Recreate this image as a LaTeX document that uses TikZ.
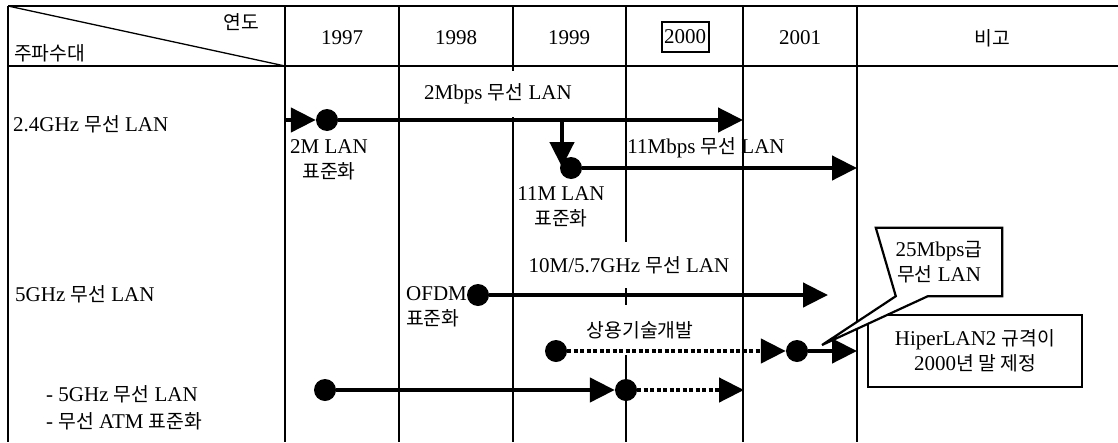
\documentclass[tikz,border=0pt]{standalone}
\usepackage{fontspec}
\setmainfont{Liberation Serif}
\newfontfamily\krfont{Noto Sans CJK KR}[Scale=0.92]
\newcommand{\kor}[1]{{\krfont #1}}
\usetikzlibrary{arrows.meta,calc}
\begin{document}
\begin{tikzpicture}[x=1pt,y=-1pt,
  grid/.style={line width=2.6pt},
  lbl/.style={font=\fontsize{21}{25}\selectfont, inner sep=0pt},
  whitelbl/.style={lbl, fill=white, inner xsep=1pt},
  dot/.style={circle, fill=black, inner sep=0pt, minimum size=22pt},
  flow/.style={line width=4.5pt, -{Triangle[length=25pt,width=24pt]}},
  dflow/.style={flow, dash pattern=on 4pt off 2.5pt},
  boxline/.style={line width=2.2pt},
]
\useasboundingbox (0,0) rectangle (1118,442);
% grid
\draw[grid] (8,6) -- (1118,6);
\draw[grid] (8,66) -- (1118,66);
\foreach \x in {8,285,399,513,626,743,857}{\draw[grid] (\x,6) -- (\x,442);}
\draw[line width=1.3pt] (8,6) -- (285,66);
% header
\node[lbl] (yeondo) at (241,22) {\kor{연도}};
\node[lbl, anchor=west] (jupa) at (14,53) {\kor{주파수대}};
\node[lbl] (y97) at (342,38) {1997};
\node[lbl] (y98) at (456,38) {1998};
\node[lbl] (y99) at (569,38) {1999};
\node[lbl, draw, line width=2pt, minimum width=47pt, minimum height=30pt] (y00) at (685,37) {2000};
\node[lbl] (y01) at (800,38) {2001};
\node[lbl] (bigo) at (992,38) {\kor{비고}};
% row labels
\node[lbl, anchor=west] (r1) at (13,124) {2.4GHz \kor{무선} LAN};
\node[lbl, anchor=west] (r2) at (15,294) {5GHz \kor{무선} LAN};
\node[lbl, anchor=west] (r3a) at (46,394) {- 5GHz \kor{무선} LAN};
\node[lbl, anchor=west] (r3b) at (46,421) {- \kor{무선} ATM \kor{표준화}};
% labels with white background
\node[whitelbl, minimum height=46pt] (t2mbps) at (498,94) {2Mbps \kor{무선} LAN};
\node[whitelbl, minimum height=46pt] (t10m) at (629,265) {10M/5.7GHz \kor{무선} LAN};
\node[whitelbl, minimum height=50pt] (tsang) at (640,330) {\kor{상용기술개발}};
% dots and end points
\coordinate (a1s) at (285,120);
\node[dot] (d1) at (327,120) {};
\coordinate (a1e) at (743,120);
\coordinate (v1s) at (562,120);
\coordinate (v1e) at (562,167);
\node[dot] (d2) at (571,168) {};
\coordinate (a2e) at (857,168);
\node[dot] (d3) at (478,295) {};
\coordinate (a3e) at (828,295);
\node[dot] (d4) at (556,351) {};
\node[dot] (d5) at (797,351) {};
\coordinate (a4e) at (857,351);
\node[dot] (d6) at (325,390) {};
\node[dot] (d7) at (626,390) {};
\coordinate (a5e) at (744,390);
% arrows
\draw[flow] (a1s) -- (d1.west);
\draw[flow] (d1) -- (a1e);
\draw[flow] (v1s) -- (v1e);
\draw[flow] (d2) -- (a2e);
\draw[flow] (d3) -- (a3e);
\draw[dflow] (d4.east) -- (d5.west);
\draw[flow] (d5) -- (a4e);
\draw[flow] (d6) -- (d7.west);
\draw[dflow] (d7.east) -- (a5e);
% other labels
\node[lbl, align=center] (t2m) at (329,160) {2M LAN\\\kor{표준화}};
\node[lbl, align=center] (t11m) at (561,207) {11M LAN\\\kor{표준화}};
\node[lbl, align=left, anchor=west] (tofdm) at (406,307) {OFDM\\\kor{표준화}};
\node[lbl] (t11mbps) at (706,148) {11Mbps \kor{무선} LAN};
% remarks
\node[lbl, draw, boxline, fill=white, align=center, minimum width=214pt, minimum height=72pt] (hiper) at (975,351) {HiperLAN2 \kor{규격이}\\2000\kor{년 말 제정}};
\path (939,262) node[lbl, minimum width=126pt, minimum height=68pt] (cbox) {};
\coordinate (ptr) at (822,345);
\draw[boxline, fill=white, line join=miter] (cbox.north west) -- (cbox.north east) -- (cbox.south east) -- ($(cbox.south west)+(52,0)$) -- (ptr) -- ($(cbox.south west)+(20,0)$) -- cycle;
\node[lbl, align=center] (cbtext) at (cbox.center) {25Mbps\kor{급}\\\kor{무선} LAN};
\end{tikzpicture}
\end{document}
